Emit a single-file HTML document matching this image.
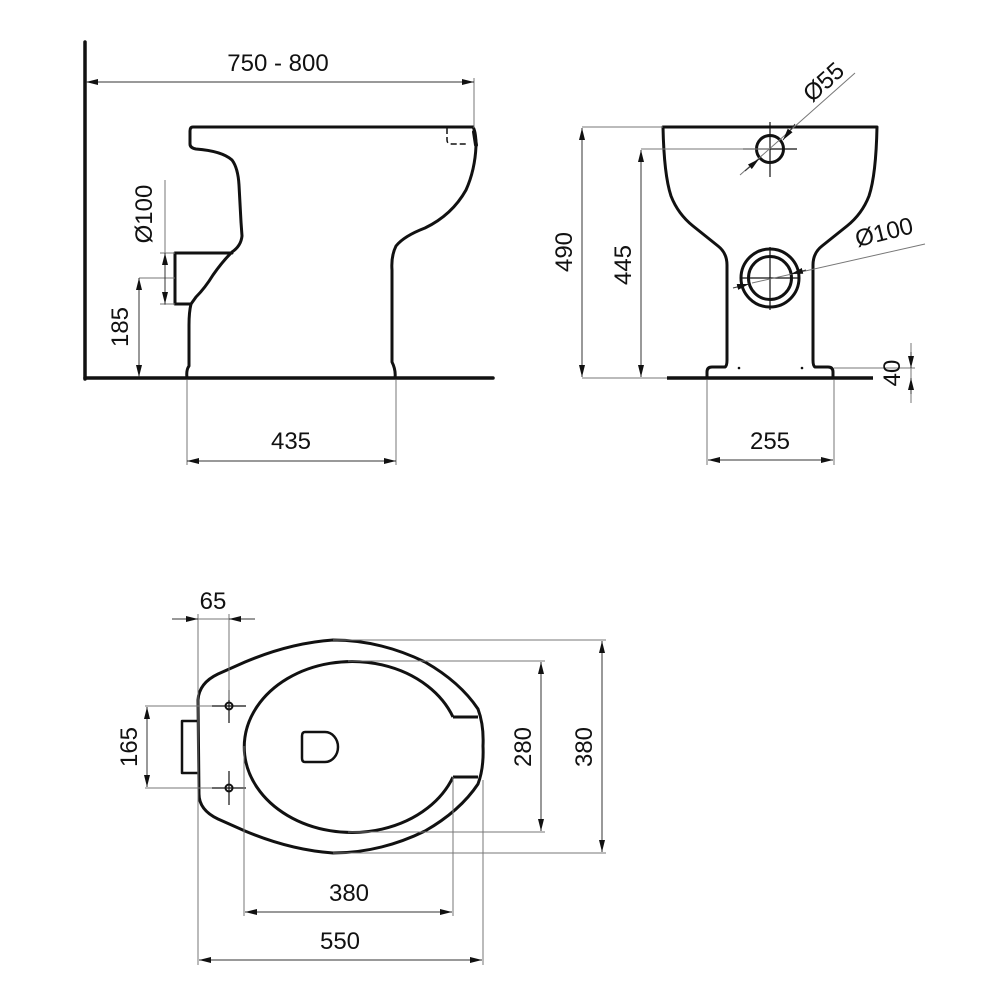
<!DOCTYPE html>
<html><head><meta charset="utf-8"><style>
html,body{margin:0;padding:0;background:#fff;}
svg{display:block;}
text{font-family:"Liberation Sans",sans-serif;font-size:24px;fill:#111;}
</style></head><body>
<svg width="1000" height="1000" viewBox="0 0 1000 1000" xmlns="http://www.w3.org/2000/svg">
<defs>
<marker id="a" viewBox="0 0 12 6" refX="12" refY="3" markerWidth="12" markerHeight="6" markerUnits="userSpaceOnUse" orient="auto-start-reverse"><path d="M0,0 L12,3 L0,6 z" fill="#111"/></marker>
</defs>

<!-- ============ SIDE VIEW ============ -->
<g fill="none" stroke="#111" stroke-width="3" stroke-linejoin="round" stroke-linecap="round">
  <line x1="85" y1="42" x2="85" y2="379" stroke-width="3.5"/>
  <line x1="85" y1="378" x2="493" y2="378" stroke-width="3.5"/>
  <!-- body outline left -->
  <path d="M473,127 H193 Q190,127 190,131 V144 Q190,148 196,149 Q222,151 232,160 Q238,168 239,185 L241,222 L242,236 Q241,246 232,252 Q222,262 213,275 Q205,288 196,297 L191,304 Q189,312 189,325 V366 Q186,370 187,378"/>
  <!-- outlet box -->
  <path d="M232,253 H175 V304 H191"/>
  <!-- right side -->
  <path d="M473,127 Q476,132 476,146 Q475,170 466,190 Q452,215 425,228 Q404,236 396,246 Q391,256 392,270 V362 Q396,370 395,378"/>
  <path d="M474,132 L476,145" stroke-width="4"/>
</g>
<path d="M447,128 V140 Q447,144 452,144 H468" fill="none" stroke="#111" stroke-width="1.5" stroke-dasharray="6,3"/>

<g stroke="#777" stroke-width="1" fill="none">
  <line x1="474" y1="78" x2="474" y2="128"/>
  <line x1="165" y1="180" x2="165" y2="305"/>
  <line x1="160" y1="253" x2="175" y2="253"/>
  <line x1="160" y1="304" x2="175" y2="304"/>
  <line x1="139" y1="278" x2="175" y2="278"/>
  <line x1="187" y1="380" x2="187" y2="465"/>
  <line x1="396" y1="380" x2="396" y2="465"/>
</g>
<g stroke="#333" stroke-width="1" fill="none">
  <line x1="86" y1="82" x2="474" y2="82" marker-start="url(#a)" marker-end="url(#a)"/>
  <line x1="165" y1="253" x2="165" y2="304" marker-start="url(#a)" marker-end="url(#a)"/>
  <line x1="139" y1="278" x2="139" y2="377" marker-start="url(#a)" marker-end="url(#a)"/>
  <line x1="187" y1="461" x2="396" y2="461" marker-start="url(#a)" marker-end="url(#a)"/>
</g>
<text x="278" y="71" text-anchor="middle">750 - 800</text>
<text transform="translate(152,214) rotate(-90)" text-anchor="middle">Ø100</text>
<text transform="translate(128,327) rotate(-90)" text-anchor="middle">185</text>
<text x="291" y="449" text-anchor="middle">435</text>

<!-- ============ FRONT VIEW ============ -->
<g fill="none" stroke="#111" stroke-width="3" stroke-linejoin="round">
  <line x1="667" y1="378" x2="873" y2="378" stroke-width="3.5"/>
  <path d="M707,378 V372 Q707,367 712,367 H725 Q727,366 727,360 V265 Q727,253 718,246 L693,226 Q678,214 671,196 Q664,175 663,127 H877 Q876,175 869,196 Q862,214 847,226 L822,246 Q813,253 813,265 V360 Q813,366 815,367 H828 Q833,367 833,372 V378"/>
  <circle cx="770" cy="149" r="13.5"/>
  <circle cx="770" cy="278" r="29"/>
  <circle cx="770" cy="278" r="21.5"/>
</g>
<circle cx="739" cy="368" r="1.3" fill="#111"/>
<circle cx="802" cy="368" r="1.3" fill="#111"/>
<g stroke="#111" stroke-width="1.2">
  <line x1="743" y1="149" x2="797" y2="149"/>
  <line x1="770" y1="122" x2="770" y2="177"/>
  <line x1="740" y1="278" x2="800" y2="278"/>
  <line x1="770" y1="247" x2="770" y2="310"/>
</g>
<g stroke="#777" stroke-width="1" fill="none">
  <line x1="582" y1="127" x2="663" y2="127"/>
  <line x1="582" y1="378" x2="667" y2="378"/>
  <line x1="641" y1="149" x2="770" y2="149"/>
  <line x1="740" y1="175" x2="855" y2="73"/>
  <line x1="752" y1="283" x2="925" y2="244"/>
  <line x1="707" y1="380" x2="707" y2="465"/>
  <line x1="834" y1="380" x2="834" y2="465"/>
  <line x1="834" y1="368" x2="915" y2="368"/>
  <line x1="911" y1="343" x2="911" y2="403"/>
</g>
<g stroke="#333" stroke-width="1" fill="none">
  <line x1="582" y1="128" x2="582" y2="377" marker-start="url(#a)" marker-end="url(#a)"/>
  <line x1="641" y1="150" x2="641" y2="377" marker-start="url(#a)" marker-end="url(#a)"/>
  <line x1="708" y1="460" x2="833" y2="460" marker-start="url(#a)" marker-end="url(#a)"/>
  <line x1="911" y1="352" x2="911" y2="368" marker-end="url(#a)"/>
  <line x1="911" y1="394" x2="911" y2="378" marker-end="url(#a)"/>
  <line x1="795" y1="124" x2="783" y2="140" marker-end="url(#a)"/>
  <line x1="745" y1="171" x2="759" y2="159" marker-end="url(#a)"/>
  <line x1="733" y1="288" x2="749" y2="284" marker-end="url(#a)"/>
  <line x1="806" y1="270" x2="791" y2="274" marker-end="url(#a)"/>
</g>
<text transform="translate(829,88) rotate(-42)" text-anchor="middle">Ø55</text>
<text transform="translate(886,240) rotate(-14)" text-anchor="middle">Ø100</text>
<text transform="translate(572,252) rotate(-90)" text-anchor="middle">490</text>
<text transform="translate(631,265) rotate(-90)" text-anchor="middle">445</text>
<text transform="translate(900,373) rotate(-90)" text-anchor="middle">40</text>
<text x="770" y="449" text-anchor="middle">255</text>

<!-- ============ TOP VIEW ============ -->
<g fill="none" stroke="#111" stroke-width="3" stroke-linejoin="round">
  <path d="M198,700 Q199,683 218,674 L245,662 Q290,643 333,640 Q380,640 425,662 Q460,682 478,709 Q484,725 483,746 Q484,768 478,784 Q460,811 425,831 Q380,853 333,853 Q290,850 245,831 L218,819 Q199,810 199,794 Z"/>
  <path d="M453,717 A107.8,85.5 0 1,0 453,777"/>
  <line x1="453" y1="717" x2="478" y2="717"/>
  <line x1="453" y1="777" x2="478" y2="777"/>
  <path d="M198,721 H182 V773 H198" stroke-width="2.5"/>
  <path d="M305,732 H325 A13,15 0 0 1 325,762 H305 Q302,762 302,758 V736 Q302,732 305,732 Z" stroke-width="2.5"/>
  <circle cx="229" cy="706" r="3.5" stroke-width="2"/>
  <circle cx="229" cy="788" r="3.5" stroke-width="2"/>
</g>
<g stroke="#111" stroke-width="1.2">
  <line x1="212" y1="706" x2="246" y2="706"/>
  <line x1="229" y1="690" x2="229" y2="723"/>
  <line x1="212" y1="788" x2="246" y2="788"/>
  <line x1="229" y1="771" x2="229" y2="805"/>
</g>
<g stroke="#777" stroke-width="1" fill="none">
  <line x1="198" y1="614" x2="198" y2="965"/>
  <line x1="229" y1="614" x2="229" y2="700"/>
  <line x1="172" y1="619" x2="255" y2="619"/>
  <line x1="145" y1="706" x2="212" y2="706"/>
  <line x1="145" y1="788" x2="212" y2="788"/>
  <line x1="348" y1="661" x2="545" y2="661"/>
  <line x1="348" y1="832" x2="545" y2="832"/>
  <line x1="333" y1="640" x2="606" y2="640"/>
  <line x1="333" y1="853" x2="606" y2="853"/>
  <line x1="244" y1="746" x2="244" y2="916"/>
  <line x1="453" y1="777" x2="453" y2="916"/>
  <line x1="483" y1="780" x2="483" y2="965"/>
</g>
<g stroke="#333" stroke-width="1" fill="none">
  <line x1="172" y1="619" x2="198" y2="619" marker-end="url(#a)"/>
  <line x1="255" y1="619" x2="229" y2="619" marker-end="url(#a)"/>
  <line x1="147" y1="707" x2="147" y2="787" marker-start="url(#a)" marker-end="url(#a)"/>
  <line x1="541" y1="662" x2="541" y2="831" marker-start="url(#a)" marker-end="url(#a)"/>
  <line x1="602" y1="641" x2="602" y2="852" marker-start="url(#a)" marker-end="url(#a)"/>
  <line x1="245" y1="912" x2="452" y2="912" marker-start="url(#a)" marker-end="url(#a)"/>
  <line x1="199" y1="960" x2="482" y2="960" marker-start="url(#a)" marker-end="url(#a)"/>
</g>
<text x="213" y="609" text-anchor="middle">65</text>
<text transform="translate(137,747) rotate(-90)" text-anchor="middle">165</text>
<text transform="translate(531,747) rotate(-90)" text-anchor="middle">280</text>
<text transform="translate(592,747) rotate(-90)" text-anchor="middle">380</text>
<text x="349" y="901" text-anchor="middle">380</text>
<text x="340" y="949" text-anchor="middle">550</text>
</svg>
</body></html>
